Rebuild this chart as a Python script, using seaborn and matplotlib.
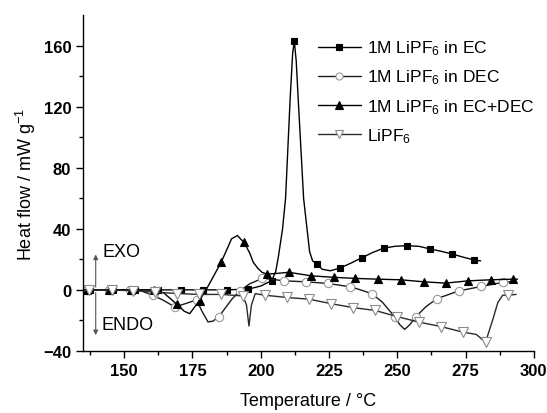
import seaborn as sns
import matplotlib.pyplot as plt
import pandas as pd

# DSC traces (temperature in degC, heat flow in mW/g)
ec_t = [135, 137.5, 146, 154, 162.5, 171, 179, 187.5, 195.5, 200, 204, 205.5, 206.5, 208, 209.1,
        210.8, 211.7, 212.3, 213, 213.7, 215.7, 217.9, 219, 220.5, 222.5, 225.5, 229, 233, 237,
        241, 245, 249, 253.5, 258, 262, 266, 270, 274, 278, 280.5]
ec_v = [0, 0, 0, 0, 0, 0, 0, 0, 0.5, 2.5, 6, 12, 22, 40, 60,
        126, 155, 163, 150, 126, 60, 25, 19, 17, 13.5, 12.5, 14.3, 17.5, 21,
        24.5, 27.3, 28.5, 29, 28.5, 26.8, 25.3, 23.5, 21.5, 19.6, 19]
ec_marks = [137.5, 146, 154, 162.5, 171, 179, 187.5, 195.5, 204, 212.3, 220.5, 229, 237, 245,
            253.5, 262, 270, 278]

dec_t = [135, 136.3, 144.3, 152.3, 156, 160.4, 164, 168.6, 172.5, 176.5, 178.5, 180.7, 182.5,
         184.7, 187, 189.5, 192.4, 196, 200.6, 204, 208.4, 216.4, 224.6, 232.8, 236.5, 240.7,
         244.5, 249, 251, 252.7, 254.5, 256.7, 260.5, 264.6, 272.5, 280.7, 288.6, 293.5]
dec_v = [0, 0, 0, 0, -0.5, -3.5, -6.5, -11.2, -9, -6.6, -14, -21, -20.5,
         -17.5, -12, -6, -0.6, 4, 7.5, 7, 5.9, 5.3, 4.2, 2, 0, -2.5,
         -8, -17.5, -23, -25.9, -23, -17.8, -11, -5.7, -0.7, 2.2, 4.9, 5.5]
dec_marks = [136.3, 144.3, 152.3, 160.4, 168.6, 176.5, 184.7, 192.4, 200.6, 208.4, 216.4, 224.6,
             232.8, 240.7, 249, 256.7, 264.6, 272.5, 280.7, 288.6]

mix_t = [135, 136.3, 144.5, 152.7, 160.9, 164.5, 169.3, 172, 174, 175.5, 177.6, 180, 185.5,
         188, 189.3, 191.5, 192.6, 193.9, 196, 197.3, 199, 200.5, 202.3, 206, 210.3, 218.5,
         226.7, 234.7, 242.9, 251.2, 259.6, 267.7, 275.9, 284.2, 292.4, 294]
mix_v = [0, 0, 0, 0, 0, -2, -9.4, -14, -15.6, -12, -7, 0, 18,
         28, 33.4, 35.6, 33.4, 31.2, 24, 18, 14, 11.5, 10.3, 10.8, 11.5, 9.2,
         8.2, 7.5, 7, 6.6, 5.3, 4.4, 5.9, 6.6, 7, 7]
mix_marks = [136.3, 144.5, 152.7, 160.9, 169.3, 177.6, 185.5, 193.9, 202.3, 210.3, 218.5, 226.7,
             234.7, 242.9, 251.2, 259.6, 267.7, 275.9, 284.2, 292.4]

salt_t = [135, 137.2, 145.4, 153.3, 161.2, 169.4, 177.4, 185.6, 193.5, 194.8, 195.7, 196.6, 198,
          201.5, 209.6, 217.7, 225.6, 233.7, 241.9, 249.9, 257.9, 266.1, 274, 278.9, 282.3, 285,
          286.8, 288.6, 290.5, 293.5]
salt_v = [-0.2, -0.2, -0.2, -0.5, -1.5, -2.4, -3, -3, -4, -10, -23.7, -10, -2.5,
          -3.5, -5, -6.1, -9, -11.6, -13.5, -17.5, -21.1, -24.1, -27.7, -29.2, -34.3, -19.3,
          -8.3, -3.5, -3.5, -3]
salt_marks = [137.2, 145.4, 153.3, 161.2, 169.4, 177.4, 185.6, 193.5, 201.5, 209.6, 217.7, 225.6,
              233.7, 241.9, 249.9, 257.9, 266.1, 274, 282.3, 290.5]

labels = ["1M LiPF$_6$ in EC", "1M LiPF$_6$ in DEC", "1M LiPF$_6$ in EC+DEC", "LiPF$_6$"]

sns.set_theme(style="ticks")
plt.rcParams["font.family"] = ["Liberation Sans", "DejaVu Sans"]
plt.rcParams["mathtext.default"] = "regular"
plt.rcParams["axes.linewidth"] = 1.0
for key in ["text.color", "axes.labelcolor", "axes.edgecolor", "xtick.color", "ytick.color"]:
    plt.rcParams[key] = "black"

fig = plt.figure(figsize=(5.47, 4.14), dpi=100)
ax = fig.add_axes([0.152, 0.150, 0.824, 0.811])

series = [
    (ec_t, ec_v, ec_marks, dict(marker="s", markersize=4.5, markerfacecolor="black",
                                markeredgecolor="black", color="black")),
    (dec_t, dec_v, dec_marks, dict(marker="o", markersize=6, markerfacecolor="white",
                                   markeredgecolor="#999999", color="#1a1a1a")),
    (mix_t, mix_v, mix_marks, dict(marker="^", markersize=6, markerfacecolor="black",
                                   markeredgecolor="black", color="black")),
    (salt_t, salt_v, salt_marks, dict(marker="v", markersize=6.5, markerfacecolor="white",
                                      markeredgecolor="#8c8c8c", color="#2a2a2a")),
]

for (t, v, marks, style), lab in zip(series, labels):
    df = pd.DataFrame({"T": t, "q": v})
    idx = [t.index(m) for m in marks]
    sns.lineplot(data=df, x="T", y="q", ax=ax, label=lab, linewidth=1.0,
                 markevery=idx, markeredgewidth=0.8, estimator=None, sort=False, **style)

ax.set_xlim(135, 300)
ax.set_ylim(-40, 180)
ax.set_xticks([150, 175, 200, 225, 250, 275, 300])
ax.set_xticks([137.5, 162.5, 187.5, 212.5, 237.5, 262.5, 287.5], minor=True)
ax.set_yticks([-40, 0, 40, 80, 120, 160])
ax.set_yticks([-20, 20, 60, 100, 140], minor=True)
ax.tick_params(which="major", direction="out", length=5, width=1, labelsize=12, colors="black")
ax.tick_params(which="minor", direction="out", length=3, width=1, colors="black")
for lbl in ax.get_xticklabels() + ax.get_yticklabels():
    lbl.set_fontweight("bold")
sns.despine(ax=ax)

ax.set_xlabel("Temperature / °C", fontsize=13, labelpad=10)
ax.set_ylabel("Heat flow / mW g$^{-1}$", fontsize=13, labelpad=4)

# EXO / ENDO arrows
ax.annotate("", xy=(139.6, 25), xytext=(139.6, 0),
            arrowprops=dict(arrowstyle="-|>", color="#555555", lw=0.8, mutation_scale=7))
ax.annotate("", xy=(139.6, -31.5), xytext=(139.6, 0),
            arrowprops=dict(arrowstyle="-|>", color="#555555", lw=0.8, mutation_scale=7))
ax.text(142.2, 25, "EXO", fontsize=13, va="center", ha="left")
ax.text(141.6, -22.5, "ENDO", fontsize=13, va="center", ha="left")

ax.legend(loc="upper left", bbox_to_anchor=(0.52, 0.93), frameon=False, fontsize=12.5,
          handlelength=2.5, handletextpad=0.35, labelspacing=0.6, borderpad=0, borderaxespad=0,
          markerscale=0.85)

fig.savefig("out.png", dpi=100)
